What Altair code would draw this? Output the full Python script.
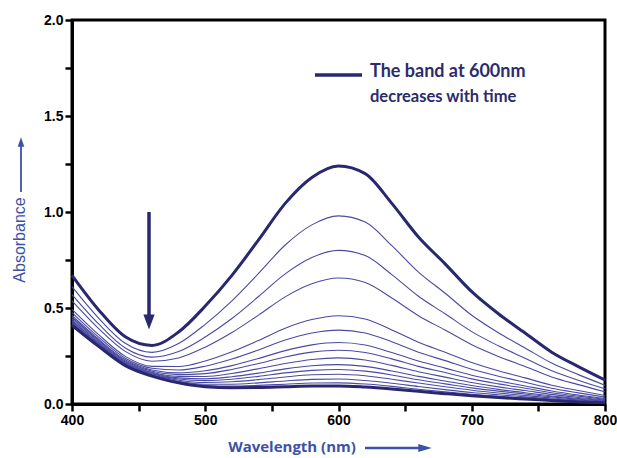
import altair as alt
import pandas as pd

# ---------------- data ----------------
wavelength = [400, 420, 440, 460, 480, 500, 520, 540, 560, 580, 600,
              620, 640, 660, 680, 700, 720, 740, 760, 780, 800]

c00 = [0.670, 0.490, 0.350, 0.305, 0.375, 0.510, 0.670, 0.855, 1.045, 1.180, 1.240,
       1.200, 1.045, 0.870, 0.730, 0.585, 0.470, 0.370, 0.270, 0.195, 0.125]
c01 = [0.611, 0.447, 0.316, 0.269, 0.315, 0.415, 0.537, 0.680, 0.828, 0.933, 0.980,
       0.948, 0.825, 0.687, 0.577, 0.462, 0.371, 0.292, 0.213, 0.153, 0.098]
c02 = [0.570, 0.417, 0.292, 0.244, 0.273, 0.349, 0.445, 0.560, 0.678, 0.763, 0.800,
       0.773, 0.674, 0.561, 0.470, 0.377, 0.303, 0.238, 0.173, 0.124, 0.079]
c03 = [0.537, 0.393, 0.274, 0.223, 0.240, 0.296, 0.372, 0.463, 0.558, 0.626, 0.656,
       0.633, 0.552, 0.460, 0.385, 0.309, 0.248, 0.195, 0.141, 0.101, 0.064]
c04 = [0.493, 0.361, 0.248, 0.196, 0.195, 0.224, 0.272, 0.331, 0.395, 0.440, 0.460,
       0.443, 0.386, 0.322, 0.270, 0.216, 0.173, 0.136, 0.098, 0.070, 0.044]
c05 = [0.476, 0.348, 0.238, 0.186, 0.177, 0.197, 0.234, 0.281, 0.333, 0.370, 0.385,
       0.370, 0.324, 0.270, 0.226, 0.181, 0.145, 0.113, 0.082, 0.058, 0.036]
c06 = [0.461, 0.337, 0.230, 0.177, 0.162, 0.173, 0.200, 0.237, 0.278, 0.308, 0.320,
       0.307, 0.268, 0.224, 0.187, 0.150, 0.120, 0.094, 0.068, 0.047, 0.029]
c07 = [0.452, 0.331, 0.224, 0.171, 0.153, 0.158, 0.180, 0.211, 0.245, 0.270, 0.280,
       0.268, 0.235, 0.196, 0.164, 0.131, 0.105, 0.082, 0.059, 0.041, 0.025]
c08 = [0.443, 0.324, 0.219, 0.165, 0.144, 0.143, 0.159, 0.184, 0.211, 0.232, 0.240,
       0.229, 0.201, 0.168, 0.140, 0.112, 0.089, 0.070, 0.050, 0.034, 0.021]
c09 = [0.435, 0.318, 0.215, 0.161, 0.136, 0.131, 0.142, 0.161, 0.183, 0.199, 0.205,
       0.196, 0.172, 0.144, 0.120, 0.096, 0.076, 0.059, 0.042, 0.029, 0.018]
c10 = [0.430, 0.314, 0.211, 0.157, 0.130, 0.122, 0.129, 0.144, 0.162, 0.175, 0.180,
       0.171, 0.151, 0.126, 0.105, 0.084, 0.067, 0.052, 0.037, 0.025, 0.015]
c11 = [0.424, 0.310, 0.208, 0.153, 0.124, 0.112, 0.116, 0.127, 0.141, 0.152, 0.155,
       0.147, 0.129, 0.109, 0.090, 0.072, 0.057, 0.044, 0.031, 0.021, 0.012]
c12 = [0.418, 0.306, 0.205, 0.150, 0.118, 0.103, 0.103, 0.110, 0.120, 0.128, 0.130,
       0.122, 0.108, 0.091, 0.075, 0.060, 0.048, 0.037, 0.026, 0.017, 0.010]
c13 = [0.414, 0.303, 0.202, 0.147, 0.114, 0.096, 0.093, 0.097, 0.103, 0.109, 0.110,
       0.104, 0.092, 0.077, 0.063, 0.051, 0.040, 0.031, 0.022, 0.014, 0.008]
c14 = [0.410, 0.300, 0.200, 0.145, 0.110, 0.090, 0.085, 0.086, 0.090, 0.094, 0.094,
       0.088, 0.078, 0.066, 0.054, 0.043, 0.034, 0.026, 0.018, 0.011, 0.006]

curves = [c00, c01, c02, c03, c04, c05, c06, c07, c08, c09, c10, c11, c12, c13, c14]
thick_curves = [0, 14]

x_ticks = [400, 450, 500, 550, 600, 650, 700, 750, 800]
y_ticks = [0.0, 0.25, 0.5, 0.75, 1.0, 1.25, 1.5, 1.75, 2.0]

note_lines = ["The band at 600nm", "decreases with time"]
x_title = "Wavelength (nm)"
y_title = "Absorbance"

# ---------------- styling ----------------
THICK = "#29286f"
THIN = "#4a4aa2"
TITLE_BLUE = "#3b52a6"
NOTE = "#2c2b6c"

rows = []
for i, c in enumerate(curves):
    for w, a in zip(wavelength, c):
        rows.append({"wl": w, "abs": a, "curve": i,
                     "kind": "thick" if i in thick_curves else "thin"})
df = pd.DataFrame(rows)

xenc = alt.X("wl:Q", scale=alt.Scale(domain=[400, 800], nice=False, zero=False),
             axis=alt.Axis(values=x_ticks, title=None, labelFlush=False,
                           labelExpr="datum.value % 100 == 0 ? datum.label : ''"))
yenc = alt.Y("abs:Q", scale=alt.Scale(domain=[0, 2], nice=False),
             axis=alt.Axis(values=y_ticks, title=None, labelFlush=False,
                           labelExpr="datum.value % 0.5 == 0 ? format(datum.value, '.1f') : ''"))

base = alt.Chart(df)
thin = base.transform_filter(alt.datum.kind == "thin").mark_line(
    interpolate="monotone", strokeWidth=1.1, color=THIN
).encode(x=xenc, y=yenc, detail="curve:N")
thick = base.transform_filter(alt.datum.kind == "thick").mark_line(
    interpolate="monotone", strokeWidth=3, color=THICK
).encode(x=xenc, y=yenc, detail="curve:N")

one = pd.DataFrame({"k": [0]})

# annotation arrow inside the plot (pixel positions)
arrow_line = alt.Chart(one).mark_rule(color=THICK, strokeWidth=3.5).encode(
    x=alt.value(77), y=alt.value(192), y2=alt.value(297))
arrow_head = alt.Chart(one).mark_point(
    shape="M-0.75,-1L0.75,-1L0,1Z", filled=True, size=225, color=THICK, opacity=1
).encode(x=alt.value(77), y=alt.value(302))

# note "legend"
note_line = alt.Chart(one).mark_rule(color=THICK, strokeWidth=3.5).encode(
    x=alt.value(243), x2=alt.value(290), y=alt.value(55))
note1 = alt.Chart(pd.DataFrame({"t": [note_lines[0]]})).mark_text(
    align="left", baseline="middle", font="Lato", fontWeight="bold",
    fontSize=18, color=NOTE
).encode(x=alt.value(298), y=alt.value(52), text="t:N")
note2 = alt.Chart(pd.DataFrame({"t": [note_lines[1]]})).mark_text(
    align="left", baseline="middle", font="Lato", fontWeight="bold",
    fontSize=16.5, color=NOTE
).encode(x=alt.value(298), y=alt.value(77), text="t:N")

# axis titles with arrows
ytitle = alt.Chart(pd.DataFrame({"t": [y_title]})).mark_text(
    angle=270, align="center", baseline="middle", font="Liberation Sans",
    fontSize=16, color=TITLE_BLUE
).encode(x=alt.value(-52), y=alt.value(220), text="t:N")
ytitle_line = alt.Chart(one).mark_rule(color=TITLE_BLUE, strokeWidth=1.8).encode(
    x=alt.value(-51), y=alt.value(126), y2=alt.value(172))
ytitle_head = alt.Chart(one).mark_point(
    shape="M-0.7,1L0.7,1L0,-1Z", filled=True, size=90, color=TITLE_BLUE, opacity=1
).encode(x=alt.value(-51), y=alt.value(122))

xtitle = alt.Chart(pd.DataFrame({"t": [x_title]})).mark_text(
    align="center", baseline="middle", font="Open Sans", fontWeight="bold",
    fontSize=15, color=TITLE_BLUE
).encode(x=alt.value(220), y=alt.value(427), text="t:N")
xtitle_line = alt.Chart(one).mark_rule(color=TITLE_BLUE, strokeWidth=2.5).encode(
    x=alt.value(293), x2=alt.value(348), y=alt.value(428))
xtitle_head = alt.Chart(one).mark_point(
    shape="M-1,-0.6L-1,0.6L1,0Z", filled=True, size=180, color=TITLE_BLUE, opacity=1
).encode(x=alt.value(353), y=alt.value(428))

chart = alt.layer(
    thin, thick, arrow_line, arrow_head, note_line, note1, note2,
    ytitle, ytitle_line, ytitle_head, xtitle, xtitle_line, xtitle_head
).properties(
    width=533, height=384, autosize="none",
    padding={"left": 72, "top": 20, "right": 12, "bottom": 54},
    background="white"
).configure_view(
    stroke="black", strokeWidth=3
).configure_axis(
    grid=False, domainColor="black", domainWidth=3,
    tickColor="black", tickWidth=2.5, tickSize=7,
    labelFont="Liberation Sans", labelFontWeight="bold", labelFontSize=14,
    labelColor="black", labelPadding=2
)

chart.save("out.html", embed_options={"renderer": "svg", "actions": False})
